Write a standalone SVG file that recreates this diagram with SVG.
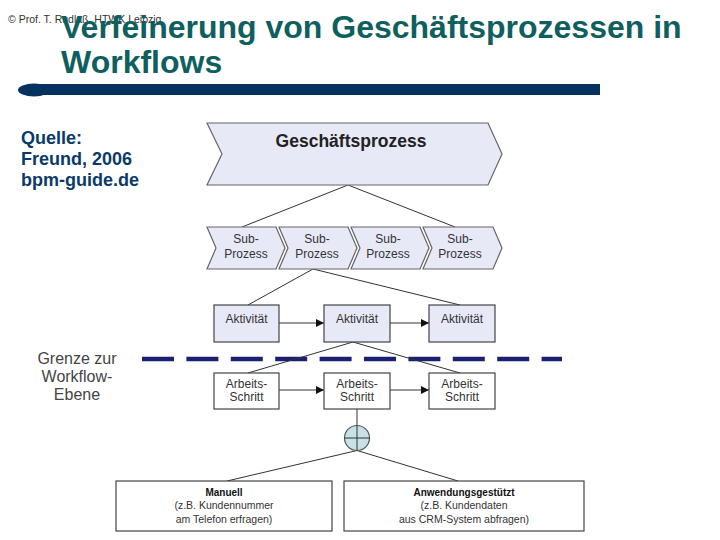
<svg xmlns="http://www.w3.org/2000/svg" width="720" height="540" viewBox="0 0 720 540">
<style>
.title{font-family:"Liberation Sans",Arial,sans-serif;font-weight:bold;font-size:32px;fill:#0f5f5f}
.copy{font-family:"Liberation Sans",Arial,sans-serif;font-size:10.5px;fill:#333}
.src{font-family:"Liberation Sans",Arial,sans-serif;font-weight:bold;font-size:18px;fill:#0a3a6a}
.lbl{font-family:"Liberation Sans",Arial,sans-serif;font-size:12px;fill:#333;text-anchor:middle}
.big{font-family:"Liberation Sans",Arial,sans-serif;font-weight:bold;font-size:17.5px;fill:#222;text-anchor:middle}
.sm{font-family:"Liberation Sans",Arial,sans-serif;font-size:10.5px;fill:#333;text-anchor:middle}
.smb{font-family:"Liberation Sans",Arial,sans-serif;font-weight:bold;font-size:10px;fill:#111;text-anchor:middle}
.grenze{font-family:"Liberation Sans",Arial,sans-serif;font-size:16px;fill:#444;text-anchor:middle}
.chev{fill:#e7e9f7;stroke:#666;stroke-width:1.2}
.act{fill:#e7e9f7;stroke:#444;stroke-width:1.2}
.step{fill:#fff;stroke:#444;stroke-width:1.2}
.ln{stroke:#333;stroke-width:1;fill:none}
.arr{stroke:#333;stroke-width:1;fill:none;marker-end:url(#ah)}
</style>
<defs>
<marker id="ah" viewBox="0 0 10 10" refX="10" refY="5" markerWidth="8" markerHeight="8" markerUnits="userSpaceOnUse" orient="auto">
<path d="M0,0 L10,5 L0,10 z" fill="#111"/>
</marker>
</defs>
<rect width="720" height="540" fill="#fff"/>

<g id="header">
<text class="copy" x="8" y="23">© Prof. T. Rudlaß, HTWK Leipzig</text>
<text class="title" x="61" y="38">Verfeinerung von Geschäftsprozessen in</text>
<text class="title" x="61" y="73">Workflows</text>
<rect x="30" y="84" width="570" height="11" fill="#06325f"/>
<ellipse cx="34" cy="90" rx="16" ry="6.5" fill="#06325f"/>
</g>

<g id="source">
<text class="src" x="21" y="144">Quelle:</text>
<text class="src" x="21" y="165">Freund, 2006</text>
<text class="src" x="21" y="186">bpm-guide.de</text>
</g>

<g id="boundary">
<line x1="142" y1="359" x2="562" y2="359" stroke="#1b2070" stroke-width="4.5" stroke-dasharray="32,12.4"/>
<text class="grenze" x="77" y="364">Grenze zur</text>
<text class="grenze" x="77" y="382">Workflow-</text>
<text class="grenze" x="77" y="400">Ebene</text>
</g>

<g id="connectors">
<line class="ln" x1="348" y1="185" x2="242" y2="227"/>
<line class="ln" x1="348" y1="185" x2="455" y2="227"/>
<line class="ln" x1="313" y1="269" x2="248" y2="305"/>
<line class="ln" x1="313" y1="269" x2="460" y2="305"/>
<line class="arr" x1="279" y1="323" x2="324" y2="323"/>
<line class="arr" x1="390" y1="323" x2="429" y2="323"/>
<line class="ln" x1="353" y1="342" x2="248" y2="373"/>
<line class="ln" x1="353" y1="342" x2="460" y2="373"/>
<line class="arr" x1="279" y1="390" x2="324" y2="390"/>
<line class="arr" x1="390" y1="390" x2="429" y2="390"/>
<line class="ln" x1="357" y1="409" x2="357" y2="425.5"/>
<line class="ln" x1="357" y1="450.5" x2="227" y2="481"/>
<line class="ln" x1="357" y1="450.5" x2="458" y2="481"/>
</g>

<g id="geschaeftsprozess">
<polygon class="chev" points="207,123 488,123 502,154 488,185 207,185 222,154"/>
<text class="big" x="351" y="147">Geschäftsprozess</text>
</g>

<g id="sub1">
<polygon class="chev" points="207,227 276,227 285,248 276,269 207,269 216,248"/>
<text class="lbl" x="246" y="243">Sub-</text>
<text class="lbl" x="246" y="258">Prozess</text>
</g>
<g id="sub2">
<polygon class="chev" points="279,227 348,227 357,248 348,269 279,269 288,248"/>
<text class="lbl" x="317" y="243">Sub-</text>
<text class="lbl" x="317" y="258">Prozess</text>
</g>
<g id="sub3">
<polygon class="chev" points="351,227 420,227 429,248 420,269 351,269 360,248"/>
<text class="lbl" x="388" y="243">Sub-</text>
<text class="lbl" x="388" y="258">Prozess</text>
</g>
<g id="sub4">
<polygon class="chev" points="423,227 493,227 502,248 493,269 423,269 432,248"/>
<text class="lbl" x="460" y="243">Sub-</text>
<text class="lbl" x="460" y="258">Prozess</text>
</g>

<g id="akt1">
<rect class="act" x="214" y="305" width="65" height="37"/>
<text class="lbl" x="246.5" y="323">Aktivität</text>
</g>
<g id="akt2">
<rect class="act" x="324" y="305" width="66" height="37"/>
<text class="lbl" x="357" y="323">Aktivität</text>
</g>
<g id="akt3">
<rect class="act" x="429" y="305" width="66" height="37"/>
<text class="lbl" x="462" y="323">Aktivität</text>
</g>

<g id="schritt1">
<rect class="step" x="214" y="373" width="65" height="36"/>
<text class="lbl" x="246.5" y="388">Arbeits-</text>
<text class="lbl" x="246.5" y="401">Schritt</text>
</g>
<g id="schritt2">
<rect class="step" x="324" y="373" width="66" height="36"/>
<text class="lbl" x="357" y="388">Arbeits-</text>
<text class="lbl" x="357" y="401">Schritt</text>
</g>
<g id="schritt3">
<rect class="step" x="429" y="373" width="66" height="36"/>
<text class="lbl" x="462" y="388">Arbeits-</text>
<text class="lbl" x="462" y="401">Schritt</text>
</g>

<g id="xor">
<circle cx="357" cy="438" r="12.5" fill="#c6e2e6" stroke="#555" stroke-width="1.2"/>
<line x1="344.5" y1="438" x2="369.5" y2="438" stroke="#333" stroke-width="1"/>
<line x1="357" y1="425.5" x2="357" y2="450.5" stroke="#333" stroke-width="1"/>
</g>

<g id="manuell">
<rect class="step" x="116" y="481" width="216" height="50"/>
<text class="smb" x="224" y="496">Manuell</text>
<text class="sm" x="224" y="509">(z.B. Kundennummer</text>
<text class="sm" x="224" y="523">am Telefon erfragen)</text>
</g>
<g id="anwendung">
<rect class="step" x="344" y="481" width="240" height="50"/>
<text class="smb" x="464" y="496">Anwendungsgestützt</text>
<text class="sm" x="464" y="509">(z.B. Kundendaten</text>
<text class="sm" x="464" y="523">aus CRM-System abfragen)</text>
</g>
</svg>
